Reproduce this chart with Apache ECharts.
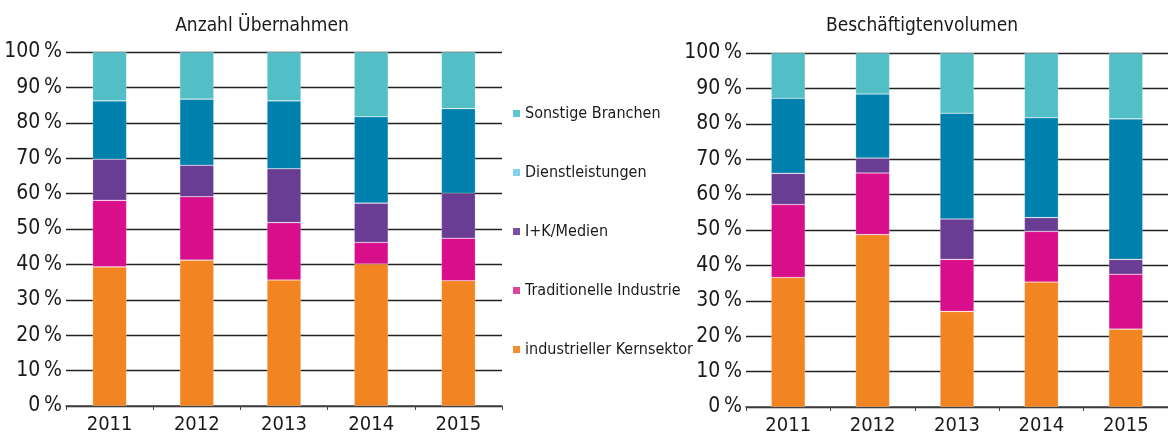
<!DOCTYPE html>
<html>
<head>
<meta charset="utf-8">
<script src="https://cdn.jsdelivr.net/npm/echarts@6/dist/echarts.min.js"></script>
<style>
html, body { margin: 0; padding: 0; background: #fff; }
#chart { width: 1168px; height: 439px; }
</style>
</head>
<body>
<div id="chart"></div>
<script>
var years = ["2011", "2012", "2013", "2014", "2015"];
var seriesNames = ["industrieller Kernsektor", "Traditionelle Industrie", "I+K/Medien", "Dienstleistungen", "Sonstige Branchen"];
var yTicks = ["0\u2009%", "10\u2009%", "20\u2009%", "30\u2009%", "40\u2009%", "50\u2009%", "60\u2009%", "70\u2009%", "80\u2009%", "90\u2009%", "100\u2009%"];

// Anzahl Übernahmen (Anteile in %)
var uebKern = [39.3, 41.2, 35.6, 40.1, 35.4];
var uebTrad = [18.8, 17.9, 16.2, 6.1, 12.0];
var uebIK = [11.6, 8.9, 15.2, 11.1, 12.7];
var uebDienst = [16.5, 18.7, 19.2, 24.4, 23.9];
var uebSonst = [13.8, 13.3, 13.8, 18.3, 16.0];

// Beschäftigtenvolumen (Anteile in %)
var besKern = [36.6, 48.7, 27.0, 35.3, 22.0];
var besTrad = [20.6, 17.4, 14.7, 14.3, 15.5];
var besIK = [8.8, 4.2, 11.4, 3.9, 4.2];
var besDienst = [21.2, 18.1, 29.9, 28.2, 39.7];
var besSonst = [12.8, 11.6, 17.0, 18.3, 18.6];

var barColors = ["#f28422", "#d90e8a", "#6a3d94", "#0080ad", "#52bec6"];
var legendColors = ["#f5902f", "#e0449a", "#7b4ea0", "#80d4f2", "#5bc8d0"];
var font = "'Liberation Sans Narrow', 'DejaVu Sans Condensed', 'Roboto', sans-serif";

var chart = echarts.init(document.getElementById("chart"));

function xAxis(idx) {
    return {
        type: "category",
        gridIndex: idx,
        data: years,
        axisLine: { lineStyle: { color: "#444", width: 1.5 } },
        axisTick: { show: true, length: 4, lineStyle: { color: "#444" } },
        axisLabel: { color: "#1a1a1a", fontSize: 20, fontFamily: font, margin: 9 },
        splitLine: { show: false }
    };
}
function yAxis(idx) {
    return {
        type: "value",
        gridIndex: idx,
        min: 0,
        max: 100,
        interval: 10,
        axisLine: { show: false },
        axisTick: { show: false },
        axisLabel: {
            color: "#1a1a1a", fontSize: 21, fontFamily: font, margin: 4,
            formatter: function (v) { return yTicks[v / 10]; }
        },
        splitLine: { lineStyle: { color: "#222", width: 1.3 } }
    };
}

var left = [uebKern, uebTrad, uebIK, uebDienst, uebSonst];
var right = [besKern, besTrad, besIK, besDienst, besSonst];
var series = [];
[left, right].forEach(function (set, g) {
    set.forEach(function (vals, i) {
        series.push({
            name: seriesNames[i],
            type: "bar",
            stack: "s" + g,
            xAxisIndex: g,
            yAxisIndex: g,
            barWidth: 34,
            data: vals,
            itemStyle: { color: barColors[i], borderColor: "rgba(255,255,255,0.35)", borderWidth: 0.6 },
            emphasis: { disabled: true }
        });
    });
});

var legendData = [];
for (var i = seriesNames.length - 1; i >= 0; i--) {
    legendData.push({ name: seriesNames[i], itemStyle: { color: legendColors[i], borderWidth: 0 } });
}

chart.setOption({
    animation: false,
    title: [
        { text: "Anzahl Übernahmen", left: 257, top: 12, textAlign: "center",
          textStyle: { fontSize: 19, fontWeight: "normal", color: "#1a1a1a", fontFamily: font } },
        { text: "Beschäftigtenvolumen", left: 917, top: 12, textAlign: "center",
          textStyle: { fontSize: 19, fontWeight: "normal", color: "#1a1a1a", fontFamily: font } }
    ],
    legend: {
        orient: "vertical",
        left: 508,
        top: 100,
        icon: "rect",
        itemWidth: 7,
        itemHeight: 7,
        itemGap: 42,
        selectedMode: false,
        data: legendData,
        textStyle: { fontSize: 16, lineHeight: 17, color: "#1a1a1a", fontFamily: font }
    },
    grid: [
        { left: 66, right: 1168 - 502, top: 52, bottom: 439 - 406 },
        { left: 746, right: -14, top: 53, bottom: 439 - 407 }
    ],
    xAxis: [xAxis(0), xAxis(1)],
    yAxis: [yAxis(0), yAxis(1)],
    series: series
});
</script>
</body>
</html>
